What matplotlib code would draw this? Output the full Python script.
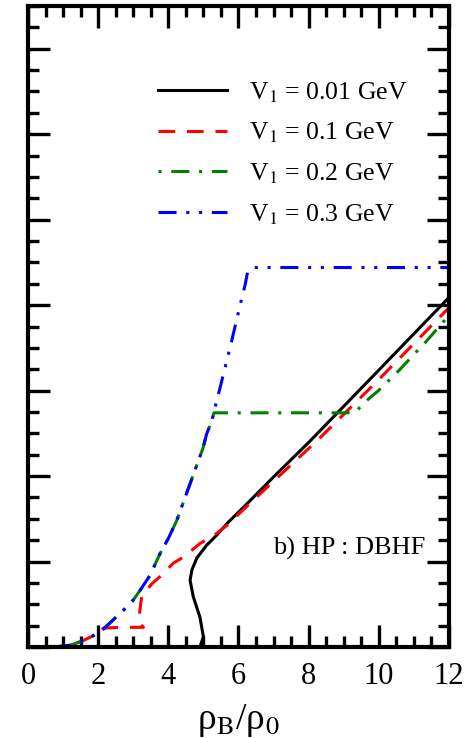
import matplotlib
matplotlib.use("Agg")
import matplotlib.pyplot as plt
from matplotlib.ticker import MultipleLocator, NullFormatter

plt.rcParams["font.family"] = ["Liberation Serif", "DejaVu Serif"]
plt.rcParams["mathtext.fontset"] = "stix"
plt.rcParams["lines.scale_dashes"] = False

# curves (y in arbitrary units, one major tick = 1)
x_001 = [0, 4.5, 4.9, 5.0, 4.9, 4.71, 4.62, 4.67, 4.81, 5.09, 5.38, 5.71, 6.3, 7.0, 8.04, 10.0, 12.0]
y_001 = [0, 0, 0, 0.12, 0.35, 0.59, 0.78, 0.90, 1.04, 1.19, 1.31, 1.46, 1.70, 1.99, 2.41, 3.24, 4.09]

x_01 = [0.6, 1.0, 1.2, 1.48, 1.6, 1.85, 2.15, 2.6, 3.0, 3.29, 3.2, 3.17, 3.19, 3.24, 3.53, 3.81, 4.14,
        4.42, 4.9, 5.38, 5.66, 6.3, 7.0, 8.28, 10.0, 12.0]
y_01 = [0, 0.01, 0.02, 0.06, 0.08, 0.13, 0.22, 0.23, 0.23, 0.23, 0.27, 0.35, 0.43, 0.59, 0.74, 0.84, 0.98,
        1.05, 1.21, 1.33, 1.42, 1.67, 1.94, 2.43, 3.13, 3.97]

x_02 = [0.72, 1.2, 1.48, 1.6, 1.85, 2.15, 2.72, 3.0, 3.19, 3.48, 3.76, 4.0, 4.24, 4.99, 5.09, 5.24, 5.3,
        9.2, 9.35, 9.45, 9.7, 9.99, 10.56, 11.36, 12.0]
y_02 = [0, 0.02, 0.06, 0.08, 0.13, 0.21, 0.43, 0.55, 0.66, 0.84, 1.09, 1.27, 1.48, 2.33, 2.49, 2.65, 2.74,
        2.74, 2.75, 2.80, 2.90, 3.00, 3.23, 3.58, 3.88]

x_03 = [0.72, 1.2, 1.48, 1.6, 1.85, 2.15, 2.72, 3.0, 3.19, 3.48, 3.76, 4.0, 4.24, 4.99, 5.09, 5.24, 5.33,
        5.43, 5.66, 5.81, 6.04, 6.19, 6.26, 6.4, 12.0]
y_03 = [0, 0.02, 0.06, 0.08, 0.13, 0.21, 0.43, 0.55, 0.66, 0.84, 1.09, 1.27, 1.48, 2.33, 2.49, 2.65, 2.80,
        2.96, 3.34, 3.59, 3.99, 4.24, 4.39, 4.44, 4.44]

labels = [r"V$_1$ = 0.01 GeV", r"V$_1$ = 0.1 GeV", r"V$_1$ = 0.2 GeV", r"V$_1$ = 0.3 GeV"]

fig = plt.figure(figsize=(4.69, 7.38), dpi=100)
ax = fig.add_axes([28 / 469, 91 / 738, 421 / 469, 641 / 738])

ax.plot(x_001, y_001, color="black", lw=2.2, label=labels[0])
ax.plot(x_01, y_01, color="red", lw=2.2, dashes=(12, 8.5), label=labels[1])
ax.plot(x_02, y_02, color="green", lw=2.2, dashes=(2.2, 7, 13, 7), label=labels[2])
ax.plot(x_03, y_03, color="blue", lw=2.2, dashes=(13, 7, 2.2, 7, 2.2, 7), label=labels[3])

ax.set_xlim(0, 12)
ax.set_ylim(0, 7.5)
ax.xaxis.set_major_locator(MultipleLocator(2))
ax.xaxis.set_minor_locator(MultipleLocator(0.5))
ax.yaxis.set_major_locator(MultipleLocator(1))
ax.yaxis.set_minor_locator(MultipleLocator(0.25))
ax.yaxis.set_major_formatter(NullFormatter())
ax.tick_params(which="both", direction="in", top=True, right=True, width=2.4)
ax.tick_params(which="major", length=16, labelsize=22, pad=11)
ax.tick_params(which="minor", length=8)
for s in ax.spines.values():
    s.set_linewidth(3)

ax.set_xlabel(r"ρ$_\mathrm{B}$/ρ$_\mathrm{0}$", fontsize=27, labelpad=8)

ax.text(11.32, 1.15, "b) HP : DBHF", fontsize=19, ha="right", va="center")

ax.legend(loc="upper left", bbox_to_anchor=(0.309, 0.884), frameon=False, fontsize=18.5,
          handlelength=2.7, handletextpad=0.85, labelspacing=0.62, borderpad=0, borderaxespad=0)

fig.savefig("out.png", dpi=100)
